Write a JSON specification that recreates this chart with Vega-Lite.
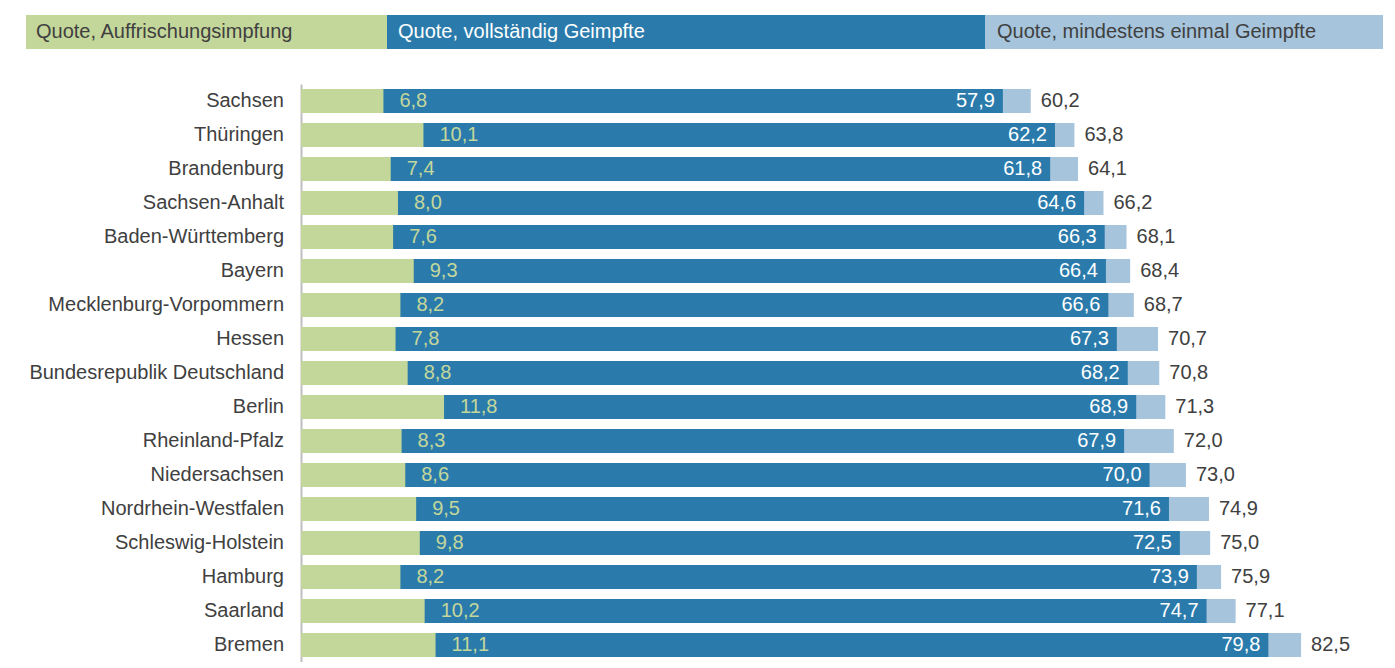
{
  "$schema": "https://vega.github.io/schema/vega-lite/v6.json",
  "padding": {"left": 26, "top": 15, "right": 0, "bottom": 0},
  "background": "white",
  "config": {
    "font": "Liberation Sans",
    "view": {"stroke": null},
    "locale": {"number": {"decimal": ",", "thousands": ".", "grouping": [3], "currency": ["", " €"]}}
  },
  "datasets": {
    "quoten": [
      {"land": "Sachsen", "auf": 6.8, "voll": 57.9, "mind": 60.2},
      {"land": "Thüringen", "auf": 10.1, "voll": 62.2, "mind": 63.8},
      {"land": "Brandenburg", "auf": 7.4, "voll": 61.8, "mind": 64.1},
      {"land": "Sachsen-Anhalt", "auf": 8.0, "voll": 64.6, "mind": 66.2},
      {"land": "Baden-Württemberg", "auf": 7.6, "voll": 66.3, "mind": 68.1},
      {"land": "Bayern", "auf": 9.3, "voll": 66.4, "mind": 68.4},
      {"land": "Mecklenburg-Vorpommern", "auf": 8.2, "voll": 66.6, "mind": 68.7},
      {"land": "Hessen", "auf": 7.8, "voll": 67.3, "mind": 70.7},
      {"land": "Bundesrepublik Deutschland", "auf": 8.8, "voll": 68.2, "mind": 70.8},
      {"land": "Berlin", "auf": 11.8, "voll": 68.9, "mind": 71.3},
      {"land": "Rheinland-Pfalz", "auf": 8.3, "voll": 67.9, "mind": 72.0},
      {"land": "Niedersachsen", "auf": 8.6, "voll": 70.0, "mind": 73.0},
      {"land": "Nordrhein-Westfalen", "auf": 9.5, "voll": 71.6, "mind": 74.9},
      {"land": "Schleswig-Holstein", "auf": 9.8, "voll": 72.5, "mind": 75.0},
      {"land": "Hamburg", "auf": 8.2, "voll": 73.9, "mind": 75.9},
      {"land": "Saarland", "auf": 10.2, "voll": 74.7, "mind": 77.1},
      {"land": "Bremen", "auf": 11.1, "voll": 79.8, "mind": 82.5}
    ]
  },
  "spacing": 35,
  "vconcat": [
    {
      "spacing": 0,
      "hconcat": [
        {
          "width": 361, "height": 34,
          "view": {"fill": "#c4d79b", "stroke": null},
          "data": {"values": [{"label": "Quote, Auffrischungsimpfung"}]},
          "mark": {"type": "text", "align": "left", "baseline": "middle", "dx": 10, "fontSize": 20, "color": "#404040"},
          "encoding": {
            "x": {"datum": 0, "type": "quantitative", "scale": {"domain": [0, 1]}, "axis": null},
            "text": {"field": "label"}
          }
        },
        {
          "width": 598, "height": 34,
          "view": {"fill": "#2a7bab", "stroke": null},
          "data": {"values": [{"label": "Quote, vollständig Geimpfte"}]},
          "mark": {"type": "text", "align": "left", "baseline": "middle", "dx": 11, "fontSize": 20, "color": "white"},
          "encoding": {
            "x": {"datum": 0, "type": "quantitative", "scale": {"domain": [0, 1]}, "axis": null},
            "text": {"field": "label"}
          }
        },
        {
          "width": 398, "height": 34,
          "view": {"fill": "#a6c4db", "stroke": null},
          "data": {"values": [{"label": "Quote, mindestens einmal Geimpfte"}]},
          "mark": {"type": "text", "align": "left", "baseline": "middle", "dx": 12, "fontSize": 20, "color": "#404040"},
          "encoding": {
            "x": {"datum": 0, "type": "quantitative", "scale": {"domain": [0, 1]}, "axis": null},
            "text": {"field": "label"}
          }
        }
      ]
    },
    {
      "spacing": 0,
      "hconcat": [
        {
          "width": 275,
          "height": 578,
          "data": {"name": "quoten"},
          "mark": {"type": "text", "align": "right", "baseline": "middle", "dx": -17, "fontSize": 20, "color": "#404040"},
          "encoding": {
            "y": {
              "field": "land", "type": "nominal", "sort": null, "title": null, "axis": null,
              "scale": {"paddingInner": 0.294, "paddingOuter": 0.147}
            },
            "x": {"datum": 1, "type": "quantitative", "scale": {"domain": [0, 1]}, "axis": null},
            "text": {"field": "land"}
          }
        },
        {
          "width": 1091,
          "height": 578,
          "data": {"name": "quoten"},
          "encoding": {
            "y": {
              "field": "land", "type": "nominal", "sort": null, "title": null,
              "scale": {"paddingInner": 0.294, "paddingOuter": 0.147},
              "axis": {"ticks": false, "labels": false, "domainColor": "#bfbfbf", "domainWidth": 2}
            }
          },
          "layer": [
            {
              "mark": {"type": "bar", "color": "#a6c4db"},
              "encoding": {
                "x": {"field": "mind", "type": "quantitative", "scale": {"domain": [0, 90], "nice": false}, "axis": null}
              }
            },
            {
              "mark": {"type": "bar", "color": "#2a7bab"},
              "encoding": {"x": {"field": "voll", "type": "quantitative"}}
            },
            {
              "mark": {"type": "bar", "color": "#c4d79b"},
              "encoding": {"x": {"field": "auf", "type": "quantitative"}}
            },
            {
              "mark": {"type": "text", "align": "left", "baseline": "middle", "dx": 16, "fontSize": 20, "color": "#c4d79b"},
              "encoding": {
                "x": {"field": "auf", "type": "quantitative"},
                "text": {"field": "auf", "type": "quantitative", "format": ".1f"}
              }
            },
            {
              "mark": {"type": "text", "align": "right", "baseline": "middle", "dx": -8, "fontSize": 20, "color": "white"},
              "encoding": {
                "x": {"field": "voll", "type": "quantitative"},
                "text": {"field": "voll", "type": "quantitative", "format": ".1f"}
              }
            },
            {
              "mark": {"type": "text", "align": "left", "baseline": "middle", "dx": 10, "fontSize": 20, "color": "#404040"},
              "encoding": {
                "x": {"field": "mind", "type": "quantitative"},
                "text": {"field": "mind", "type": "quantitative", "format": ".1f"}
              }
            }
          ]
        }
      ]
    }
  ]
}
